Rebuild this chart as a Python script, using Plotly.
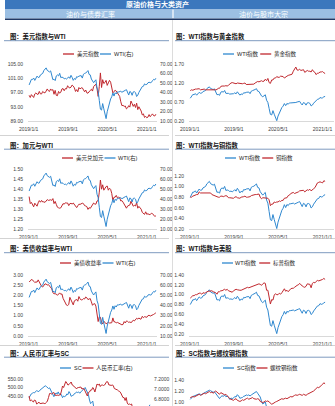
import pandas as pd
import plotly.graph_objects as go

# ---------------- weekly data (Fridays, first week 2019-01-04) ----------------
# WTI crude, USD/bbl
wti = [
    47.96, 51.59, 53.80, 53.69, 55.26, 52.72, 55.59, 57.26,
    55.80, 56.07, 58.52, 59.04, 60.14, 63.08, 64.60, 65.90, 63.30,
    61.94, 61.66, 62.76, 58.63, 53.50, 53.99, 52.51, 57.43, 58.47,
    57.51, 60.21, 55.63, 56.20, 55.66, 54.50, 54.87, 54.17, 55.10,
    56.52, 54.85, 58.09, 55.91, 52.81, 54.70, 53.78, 56.66,
    56.20, 57.24, 57.72, 57.77, 55.17, 59.20, 60.07, 60.44, 61.72,
    63.05, 59.04, 58.54, 54.19, 51.56, 50.32, 52.05, 53.38, 44.76,
    41.28, 31.73, 22.43, 21.51, 28.34, 22.76, 18.27, 12.50,
    19.78, 24.74, 29.43, 33.25, 35.49, 39.55, 36.26, 39.75, 38.49,
    40.65, 40.55, 40.59, 41.29, 40.27, 41.22, 42.01, 42.34, 42.97,
    39.77, 37.33, 41.11, 40.25, 37.05, 40.60, 40.88, 39.85, 35.79,
    37.14, 40.13, 42.15, 45.53, 46.26, 46.57, 49.10, 48.23,
    48.52, 50.20, 50.80, 50.30, 50.60, 52.40, 53.80, 53.20, 55.00,
]
# US dollar index
dxy = [
    96.2, 95.6, 96.4, 95.8, 95.6, 96.6, 96.9, 96.5,
    96.5, 97.3, 96.6, 96.6, 97.3, 97.0, 96.9, 97.4, 98.0,
    97.5, 97.3, 98.0, 97.6, 97.8, 96.5, 97.6, 96.2, 96.1,
    97.3, 96.8, 97.1, 98.0, 98.1, 97.5, 98.1, 98.0, 98.9,
    98.4, 98.3, 98.5, 99.1, 98.8, 98.3, 97.3, 97.8,
    97.2, 98.4, 98.0, 98.3, 98.3, 97.7, 97.2, 97.7, 96.9,
    96.8, 97.4, 97.6, 97.9, 97.4, 98.7, 99.1, 99.3, 98.1,
    95.9, 98.7, 102.5, 98.4, 100.6, 99.5, 99.8, 100.4,
    99.0, 99.7, 100.4, 99.9, 98.4, 96.9, 97.3, 97.6, 97.4,
    96.9, 96.7, 95.9, 94.4, 93.3, 93.4, 93.1, 93.2, 92.4,
    92.7, 93.3, 92.9, 94.6, 93.9, 93.1, 93.7, 92.8, 94.0,
    92.2, 93.0, 92.4, 91.8, 90.7, 91.0, 90.0, 90.3,
    89.9, 90.1, 90.8, 90.2, 90.6, 91.0, 90.5, 90.4, 90.9,
]
# USD/CAD
usdcad = [
    1.362, 1.327, 1.333, 1.317, 1.311, 1.329, 1.323, 1.314,
    1.331, 1.342, 1.334, 1.343, 1.335, 1.336, 1.333, 1.339, 1.347,
    1.343, 1.344, 1.346, 1.343, 1.352, 1.327, 1.338, 1.323, 1.309,
    1.306, 1.304, 1.306, 1.315, 1.327, 1.324, 1.331, 1.330, 1.330,
    1.317, 1.327, 1.328, 1.325, 1.330, 1.322, 1.313, 1.307,
    1.316, 1.324, 1.323, 1.328, 1.329, 1.327, 1.317, 1.315, 1.312,
    1.298, 1.307, 1.303, 1.313, 1.323, 1.330, 1.325, 1.324, 1.340,
    1.342, 1.384, 1.445, 1.399, 1.421, 1.394, 1.407, 1.412,
    1.415, 1.394, 1.404, 1.398, 1.378, 1.343, 1.359, 1.359, 1.368,
    1.356, 1.359, 1.357, 1.340, 1.342, 1.334, 1.324, 1.315, 1.304,
    1.315, 1.318, 1.320, 1.339, 1.328, 1.314, 1.318, 1.315, 1.332,
    1.304, 1.313, 1.308, 1.299, 1.283, 1.276, 1.273, 1.286,
    1.273, 1.277, 1.272, 1.273, 1.278, 1.277, 1.270, 1.263, 1.266,
]
# US 10Y treasury yield, %
ust10y = [
    2.67, 2.70, 2.78, 2.76, 2.69, 2.63, 2.66, 2.65,
    2.76, 2.63, 2.59, 2.44, 2.41, 2.50, 2.56, 2.56, 2.50,
    2.53, 2.46, 2.39, 2.32, 2.13, 2.08, 2.08, 2.06, 2.00,
    2.04, 2.12, 2.05, 2.07, 1.85, 1.74, 1.55, 1.52, 1.50,
    1.55, 1.90, 1.74, 1.69, 1.53, 1.73, 1.75, 1.80,
    1.71, 1.94, 1.83, 1.77, 1.78, 1.84, 1.82, 1.92, 1.88,
    1.79, 1.82, 1.84, 1.68, 1.51, 1.58, 1.59, 1.47, 1.13,
    0.71, 0.95, 0.92, 0.68, 0.59, 0.73, 0.65, 0.60,
    0.63, 0.68, 0.64, 0.66, 0.65, 0.89, 0.70, 0.70, 0.64,
    0.67, 0.64, 0.63, 0.59, 0.55, 0.57, 0.71, 0.64, 0.74,
    0.72, 0.67, 0.69, 0.66, 0.70, 0.78, 0.74, 0.84, 0.87,
    0.83, 0.89, 0.83, 0.84, 0.97, 0.90, 0.95, 0.94,
    0.92, 1.00, 1.02, 0.98, 1.00, 1.04, 1.06, 1.10, 1.14,
]
# INE SC crude, CNY/bbl
sc = [
    440, 452, 462, 466, 470, 468, 474, 482,
    478, 476, 484, 490, 492, 498, 504, 510, 506,
    500, 494, 498, 484, 468, 452, 446, 460, 468,
    462, 474, 460, 464, 456, 440, 450, 446, 450,
    462, 458, 476, 466, 448, 452, 454, 464,
    466, 474, 470, 474, 466, 474, 482, 486, 494,
    500, 486, 476, 458, 426, 405, 412, 420, 380,
    350, 300, 260, 245, 255, 245, 240, 228,
    225, 232, 245, 260, 272, 285, 278, 290, 288,
    295, 298, 300, 302, 298, 300, 302, 305, 306,
    292, 280, 288, 285, 272, 282, 285, 282, 262,
    265, 275, 282, 298, 305, 308, 318, 320,
    322, 340, 345, 342, 340, 355, 372, 385, 398,
]
# USD/CNY
cny = [
    6.86, 6.76, 6.78, 6.75, 6.74, 6.78, 6.77, 6.70,
    6.71, 6.74, 6.71, 6.71, 6.72, 6.72, 6.71, 6.71, 6.73,
    6.76, 6.83, 6.91, 6.91, 6.90, 6.92, 6.93, 6.88, 6.87,
    6.88, 6.87, 6.88, 6.88, 6.96, 7.06, 7.03, 7.12, 7.15,
    7.12, 7.08, 7.09, 7.12, 7.14, 7.08, 7.07, 7.04,
    7.03, 7.00, 7.03, 7.03, 7.03, 7.04, 7.00, 7.01, 7.00,
    6.96, 6.89, 6.86, 6.93, 6.94, 6.98, 6.98, 7.03, 7.00,
    6.94, 7.03, 7.10, 7.08, 7.10, 7.05, 7.08, 7.08,
    7.07, 7.08, 7.11, 7.15, 7.14, 7.08, 7.08, 7.07, 7.08,
    7.07, 7.01, 7.00, 7.00, 6.98, 6.96, 6.95, 6.92, 6.86,
    6.83, 6.83, 6.77, 6.83, 6.72, 6.69, 6.70, 6.69, 6.70,
    6.61, 6.63, 6.57, 6.58, 6.53, 6.54, 6.54, 6.54,
    6.52, 6.48, 6.48, 6.48, 6.46, 6.46, 6.45, 6.46, 6.48,
]
# normalised indices (through 2021-01-15)
gold_idx = [
    1.00, 1.02, 1.01, 1.03, 1.04, 1.04, 1.05, 1.05,
    1.02, 1.03, 1.03, 1.04, 1.02, 1.02, 1.02, 1.01, 1.02,
    1.01, 1.02, 1.01, 1.02, 1.03, 1.06, 1.06, 1.11, 1.12,
    1.11, 1.12, 1.13, 1.12, 1.14, 1.18, 1.20, 1.21, 1.20,
    1.19, 1.18, 1.20, 1.19, 1.19, 1.18, 1.18, 1.19,
    1.20, 1.16, 1.16, 1.16, 1.16, 1.16, 1.17, 1.17, 1.20,
    1.23, 1.24, 1.23, 1.24, 1.26, 1.24, 1.25, 1.30, 1.26,
    1.32, 1.21, 1.19, 1.28, 1.28, 1.33, 1.33, 1.37,
    1.35, 1.35, 1.38, 1.37, 1.37, 1.33, 1.37, 1.38, 1.40,
    1.41, 1.42, 1.43, 1.51, 1.56, 1.62, 1.54, 1.54, 1.56,
    1.53, 1.54, 1.55, 1.48, 1.51, 1.53, 1.51, 1.51, 1.49,
    1.55, 1.50, 1.48, 1.42, 1.46, 1.46, 1.49, 1.49,
    1.50, 1.47, 1.45,
]
copper_idx = [
    0.80, 0.80, 0.82, 0.83, 0.85, 0.85, 0.85, 0.90,
    0.88, 0.88, 0.88, 0.88, 0.89, 0.89, 0.89, 0.89, 0.88,
    0.85, 0.84, 0.83, 0.82, 0.80, 0.80, 0.80, 0.82, 0.82,
    0.81, 0.82, 0.83, 0.82, 0.79, 0.79, 0.79, 0.78, 0.78,
    0.80, 0.81, 0.79, 0.79, 0.78, 0.80, 0.80, 0.81,
    0.82, 0.80, 0.80, 0.80, 0.81, 0.83, 0.84, 0.85, 0.85,
    0.85, 0.86, 0.86, 0.80, 0.77, 0.79, 0.79, 0.79, 0.78,
    0.78, 0.75, 0.64, 0.67, 0.67, 0.71, 0.70, 0.71,
    0.71, 0.73, 0.72, 0.74, 0.74, 0.78, 0.78, 0.79, 0.83,
    0.84, 0.87, 0.88, 0.89, 0.87, 0.88, 0.88, 0.90, 0.92,
    0.92, 0.93, 0.93, 0.90, 0.92, 0.94, 0.93, 0.95, 0.92,
    0.95, 0.96, 0.98, 1.04, 1.07, 1.08, 1.09, 1.08,
    1.07, 1.11, 1.10,
]
spx_idx = [
    0.93, 0.95, 0.98, 0.98, 1.00, 1.00, 1.02, 1.03,
    1.03, 1.01, 1.04, 1.03, 1.04, 1.06, 1.07, 1.07, 1.08,
    1.08, 1.06, 1.05, 1.04, 1.01, 1.06, 1.06, 1.08, 1.08,
    1.10, 1.11, 1.09, 1.11, 1.08, 1.07, 1.06, 1.05, 1.08,
    1.10, 1.11, 1.10, 1.09, 1.09, 1.09, 1.10, 1.11,
    1.13, 1.14, 1.15, 1.14, 1.15, 1.16, 1.17, 1.18, 1.19,
    1.19, 1.20, 1.22, 1.21, 1.19, 1.22, 1.24, 1.23, 1.09,
    1.09, 0.98, 0.81, 0.90, 0.89, 0.99, 1.02, 1.00,
    1.00, 1.03, 1.01, 1.04, 1.07, 1.12, 1.07, 1.09, 1.06,
    1.10, 1.12, 1.13, 1.13, 1.15, 1.18, 1.19, 1.20, 1.23,
    1.20, 1.17, 1.16, 1.15, 1.17, 1.22, 1.22, 1.21, 1.14,
    1.23, 1.25, 1.24, 1.27, 1.29, 1.28, 1.29, 1.29,
    1.31, 1.33, 1.31,
]
rebar_idx = [
    1.08, 1.09, 1.10, 1.09, 1.10, 1.11, 1.13, 1.14,
    1.12, 1.13, 1.15, 1.16, 1.15, 1.16, 1.18, 1.19, 1.17,
    1.18, 1.16, 1.19, 1.20, 1.18, 1.15, 1.14, 1.17, 1.16,
    1.15, 1.13, 1.14, 1.12, 1.09, 1.06, 1.05, 1.04, 1.03,
    1.05, 1.06, 1.03, 1.02, 1.01, 1.02, 1.04, 1.03,
    1.05, 1.06, 1.07, 1.05, 1.06, 1.07, 1.08, 1.06, 1.05,
    1.05, 1.06, 1.05, 1.01, 1.00, 0.99, 1.00, 1.02, 1.01,
    1.02, 1.00, 0.97, 0.96, 0.97, 0.99, 1.00, 1.01,
    1.02, 1.03, 1.05, 1.06, 1.05, 1.06, 1.07, 1.06, 1.07,
    1.08, 1.10, 1.09, 1.11, 1.12, 1.13, 1.12, 1.13, 1.14,
    1.13, 1.12, 1.14, 1.13, 1.12, 1.14, 1.15, 1.16, 1.17,
    1.18, 1.20, 1.22, 1.25, 1.27, 1.26, 1.29, 1.30,
    1.32, 1.35, 1.33,
]

WTI_BASE = 60.0   # USD/bbl level used for the WTI index
SC_BASE = 420.0   # CNY/bbl level used for the SC index
N_IDX = len(gold_idx)

dates = pd.date_range("2019-01-04", periods=len(wti), freq="7D")
wti_idx = [v / WTI_BASE for v in wti[:N_IDX]]
sc_idx = [v / SC_BASE for v in sc[:N_IDX]]

X_RANGE = ["2018-12-28", "2021-03-05"]
X_TICKS = ["2019-01-01", "2019-09-01", "2020-05-01", "2021-01-01"]
X_TICK_TEXT = ["2019/1/1", "2019/9/1", "2020/5/1", "2021/1/1"]

# ---------------- page geometry (pixels) ----------------
W, H = 335, 406
RED = "#c0282e"
BLUE = "#2f88d0"
FONT = "Liberation Sans, Noto Sans CJK SC, sans-serif"
TICK_FONT = dict(size=5, color="#404040", family=FONT)
COLS = {"L": (28, 157), "R": (189, 334)}


def fx(x):
    return x / W


def fy(y):
    return 1 - y / H


def text_width(s, size):
    w = 0.0
    for ch in s:
        if ord(ch) >= 0x2E80:
            w += 1.0
        elif ch in "()":
            w += 0.33
        elif ch.isupper():
            w += 0.68
        else:
            w += 0.56
    return w * size


panels = [
    dict(col="L", top=64, bottom=121, xlabels=True, title="图：美元指数与WTI", title_y=36.5,
         leg=(63, 54, [("美元指数", RED), ("WTI(右)", BLUE)]),
         left=dict(range=[89, 105], tick0=89, dtick=4, fmt=".2f"),
         right=dict(range=[10, 70], tick0=10, dtick=10, fmt=".2f"),
         series=[(dxy, RED, "left"), (wti, BLUE, "right")]),
    dict(col="R", top=64, bottom=121, xlabels=True, title="图：WTI指数与黄金指数", title_y=36.5,
         leg=(223, 54, [("WTI指数", BLUE), ("黄金指数", RED)]),
         left=dict(range=[0.2, 1.7], tick0=0.2, dtick=0.5, fmt=".2f"),
         series=[(wti_idx, BLUE, "left"), (gold_idx, RED, "left")]),
    dict(col="L", top=169, bottom=229, xlabels=True, title="图：加元与WTI", title_y=145,
         leg=(62, 158, [("美元兑加元", RED), ("WTI(右)", BLUE)]),
         left=dict(range=[1.2, 1.5], tick0=1.2, dtick=0.05, fmt=".2f"),
         right=dict(range=[10, 70], tick0=10, dtick=10, fmt=".2f"),
         series=[(usdcad, RED, "left"), (wti, BLUE, "right")]),
    dict(col="R", top=176, bottom=229, xlabels=True, title="图：WTI指数与铜指数", title_y=145,
         leg=(225, 158, [("WTI指数", BLUE), ("铜指数", RED)]),
         left=dict(range=[0.2, 1.2], tick0=0.2, dtick=0.2, fmt=".2f"),
         series=[(wti_idx, BLUE, "left"), (copper_idx, RED, "left")]),
    dict(col="L", top=275, bottom=336, xlabels=True, title="图：美债收益率与WTI", title_y=248.5,
         leg=(60, 263, [("美债收益率", RED), ("WTI(右)", BLUE)]),
         left=dict(range=[0, 3], tick0=0, dtick=0.5, fmt=".2f"),
         right=dict(range=[10, 70], tick0=10, dtick=10, fmt=".2f"),
         series=[(ust10y, RED, "left"), (wti, BLUE, "right")]),
    dict(col="R", top=275, bottom=336, xlabels=True, title="图：WTI指数与美股", title_y=248.5,
         leg=(222, 263, [("WTI指数", BLUE), ("标普指数", RED)]),
         left=dict(range=[0.16, 1.4], tick0=0.2, dtick=0.2, fmt=".2f"),
         series=[(wti_idx, BLUE, "left"), (spx_idx, RED, "left")]),
    dict(col="L", top=379, bottom=406, xlabels=False, title="图：人民币汇率与SC", title_y=353,
         xspan=(28, 151),
         leg=(60, 368, [("SC", BLUE), ("人民币汇率(右)", RED)]),
         left=dict(range=[391, 550], tick0=400, dtick=50, fmt=".2f"),
         right=dict(range=[6.66, 7.2], tick0=6.8, dtick=0.2, fmt=".4f"),
         series=[(sc, BLUE, "left"), (cny, RED, "right")]),
    dict(col="R", top=380, bottom=406, xlabels=False, title="图：SC指数与螺纹钢指数", title_y=353,
         leg=(223, 368, [("SC指数", BLUE), ("螺纹钢指数", RED)]),
         left=dict(range=[0.927, 1.4], tick0=1.0, dtick=0.2, fmt=".2f"),
         series=[(sc_idx, BLUE, "left"), (rebar_idx, RED, "left")]),
]

fig = go.Figure()
axes = {}
shapes = []
annotations = []


def hline(x0, x1, y, color, width=1.0):
    shapes.append(dict(type="line", xref="paper", yref="paper", x0=fx(x0), x1=fx(x1),
                       y0=fy(y), y1=fy(y), line=dict(color=color, width=width)))


def label(text, x, y, size, color, xanchor="left", bold=False):
    annotations.append(dict(text=f"<b>{text}</b>" if bold else text, x=fx(x), y=fy(y),
                            xref="paper", yref="paper", xanchor=xanchor, yanchor="middle",
                            showarrow=False, borderpad=0,
                            font=dict(size=size, color=color, family=FONT)))


for i, p in enumerate(panels):
    n = i + 1
    xid = "x" if n == 1 else f"x{n}"
    xkey = "xaxis" if n == 1 else f"xaxis{n}"
    yl_n, yr_n = 2 * i + 1, 2 * i + 2
    ylid = "y" if yl_n == 1 else f"y{yl_n}"
    ylkey = "yaxis" if yl_n == 1 else f"yaxis{yl_n}"
    yrid, yrkey = f"y{yr_n}", f"yaxis{yr_n}"
    x0, x1 = p.get("xspan", COLS[p["col"]])
    ydom = [max(0.0, fy(p["bottom"])), fy(p["top"])]

    axes[xkey] = dict(domain=[fx(x0), fx(x1)], anchor=ylid, type="date", range=X_RANGE,
                      tickmode="array", tickvals=X_TICKS, ticktext=X_TICK_TEXT,
                      showgrid=False, zeroline=False, showline=p["xlabels"],
                      linecolor="#d9d9d9", linewidth=1, ticks="",
                      showticklabels=p["xlabels"], tickfont=TICK_FONT,
                      ticklabelstandoff=3, automargin=False, fixedrange=True)
    la = p["left"]
    axes[ylkey] = dict(domain=ydom, anchor=xid, range=la["range"], tick0=la["tick0"],
                       dtick=la["dtick"], tickformat=la["fmt"], showgrid=False,
                       zeroline=False, showline=False, ticks="", tickfont=TICK_FONT,
                       ticklabelstandoff=4, automargin=False, fixedrange=True)
    if "right" in p:
        ra = p["right"]
        axes[yrkey] = dict(domain=ydom, anchor=xid, overlaying=ylid, side="right",
                           range=ra["range"], tick0=ra["tick0"], dtick=ra["dtick"],
                           tickformat=ra["fmt"], showgrid=False, zeroline=False,
                           showline=False, ticks="", tickfont=TICK_FONT,
                           ticklabelstandoff=2, automargin=False, fixedrange=True)

    for values, color, side in p["series"]:
        fig.add_trace(go.Scatter(x=dates[:len(values)], y=values, mode="lines",
                                 line=dict(color=color, width=1),
                                 xaxis=xid, yaxis=ylid if side == "left" else yrid,
                                 hoverinfo="skip"))

    # chart title with underline
    tx = 9 if p["col"] == "L" else 175
    label(p["title"], tx, p["title_y"], 6.3, "#141414", bold=True)
    if p["col"] == "L":
        hline(4, 169, p["title_y"] + 4.2, "#6f8fb8", 0.9)
    else:
        hline(175, 335, p["title_y"] + 4.2, "#6f8fb8", 0.9)

    # legend drawn as line samples + text
    lx, ly, items = p["leg"]
    for text, color in items:
        shapes.append(dict(type="line", xref="paper", yref="paper", x0=fx(lx), x1=fx(lx + 11),
                           y0=fy(ly), y1=fy(ly), line=dict(color=color, width=1.3)))
        label(text, lx + 12.5, ly, 5.5, "#262626")
        lx += 12.5 + text_width(text, 5.5) + 2.5

# separators under each row of charts
for y in (135.5, 238.5, 345.5):
    hline(0, 169, y, "#c8c8c8", 0.8)
    hline(175, 335, y, "#c8c8c8", 0.8)

# column divider
shapes.append(dict(type="line", xref="paper", yref="paper", x0=fx(172.5), x1=fx(172.5),
                   y0=0, y1=fy(19.5), line=dict(color="#d3d3d3", width=0.8)))

# header banner
shapes.append(dict(type="rect", xref="paper", yref="paper", x0=fx(5), x1=1, y0=fy(9.5), y1=1,
                   fillcolor="#3b77bd", line=dict(width=0), layer="above"))
shapes.append(dict(type="rect", xref="paper", yref="paper", x0=fx(5), x1=1, y0=fy(18.5), y1=fy(9.5),
                   fillcolor="#9bbfe3", line=dict(width=0), layer="above"))
shapes.append(dict(type="line", xref="paper", yref="paper", x0=fx(173), x1=fx(173),
                   y0=fy(18.5), y1=fy(9.5), line=dict(color="#ffffff", width=1.2)))
hline(5, 335, 19.2, "#203864", 1.4)
label("原油价格与大类资产", 157, 4.9, 7, "#ffffff", xanchor="center", bold=True)
label("油价与债券汇率", 90, 14.1, 7, "#ffffff", xanchor="center")
label("油价与股市大宗", 263, 14.1, 7, "#ffffff", xanchor="center")

fig.update_layout(
    width=W, height=H, margin=dict(l=0, r=0, t=0, b=0),
    paper_bgcolor="#ffffff", plot_bgcolor="rgba(0,0,0,0)",
    showlegend=False, font=dict(family=FONT),
    shapes=shapes, annotations=annotations, **axes,
)

fig.write_html("out.html", config={"displayModeBar": False, "staticPlot": True})
